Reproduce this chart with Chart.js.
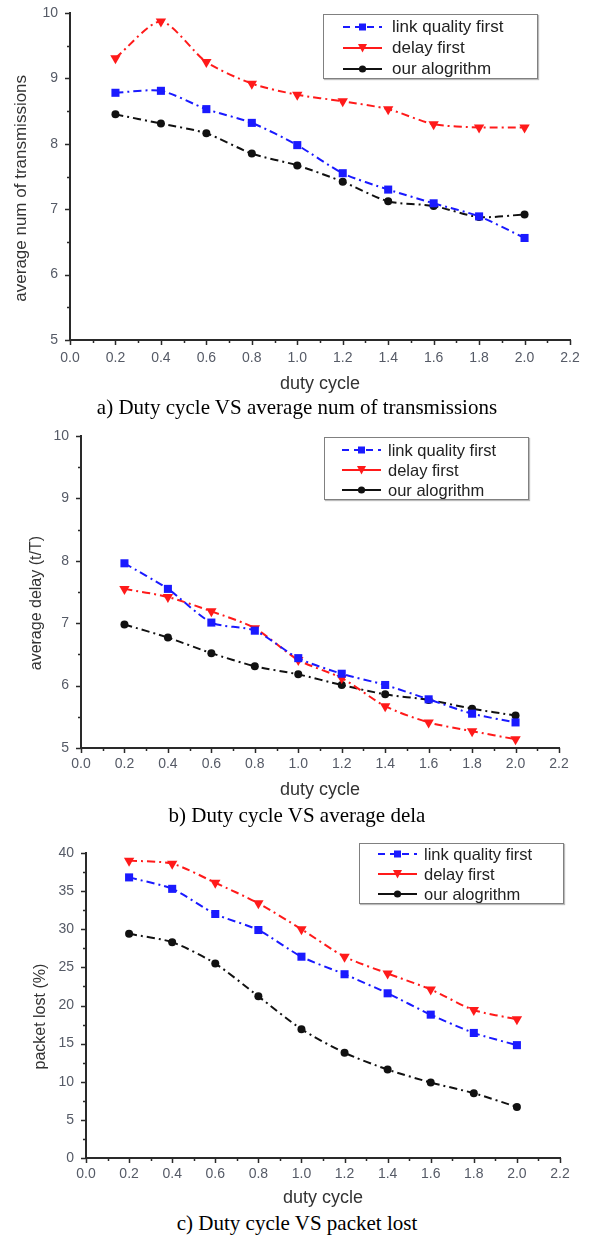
<!DOCTYPE html>
<html><head><meta charset="utf-8">
<script src="https://cdn.jsdelivr.net/npm/chart.js@4.4.0/dist/chart.umd.min.js"></script>
<style>
html,body{margin:0;padding:0;background:#fff;}
#page{position:relative;width:589px;height:1236px;overflow:hidden;background:#fff;}
canvas{position:absolute;left:0;}
.cap{position:absolute;left:0;width:594px;text-align:center;font-family:"Liberation Serif","Times New Roman",serif;font-size:21px;color:#000;line-height:24px;white-space:nowrap;}
.legend{position:absolute;border:1.5px solid #808080;background:#fff;box-sizing:border-box;box-shadow:1px 1px 1px #bbb;}
.lrow{position:absolute;left:0;height:20px;line-height:20px;font-family:"Liberation Sans",Arial,sans-serif;color:#222;white-space:nowrap;}
.lrow svg{position:absolute;top:4px;}
.lrow span{position:absolute;top:0;}
</style>
</head>
<body>
<div id="page">
  <canvas id="cA" width="589" height="396" style="top:0px;width:589px;height:396px"></canvas>
  <canvas id="cB" width="589" height="392" style="top:410px;width:589px;height:392px"></canvas>
  <canvas id="cC" width="589" height="390" style="top:820px;width:589px;height:390px"></canvas>
  <div class="cap" style="top:395px">a) Duty cycle VS average num of transmissions</div>
  <div class="cap" style="top:803px">b) Duty cycle VS average dela</div>
  <div class="cap" style="top:1211px">c) Duty cycle VS packet lost</div>
</div>
<script>
// ---------- data ----------
const xValues = [0.2, 0.4, 0.6, 0.8, 1.0, 1.2, 1.4, 1.6, 1.8, 2.0];
const seriesNames = ['link quality first', 'delay first', 'our alogrithm'];
const xTickLabels = ['0.0','0.2','0.4','0.6','0.8','1.0','1.2','1.4','1.6','1.8','2.0','2.2'];
const xTitle = 'duty cycle';

// a) average num of transmissions
const transLinkQuality  = [8.78, 8.81, 8.53, 8.32, 7.98, 7.55, 7.30, 7.09, 6.89, 6.56];
const transDelayFirst   = [9.31, 9.87, 9.25, 8.92, 8.75, 8.65, 8.53, 8.30, 8.25, 8.25];
const transOurAlgorithm = [8.45, 8.31, 8.16, 7.85, 7.67, 7.42, 7.12, 7.05, 6.88, 6.92];
const transYTicks = ['5','6','7','8','9','10'];
const transYTitle = 'average num of transmissions';

// b) average delay
const delayLinkQuality  = [7.96, 7.55, 7.01, 6.88, 6.44, 6.19, 6.01, 5.78, 5.55, 5.41];
const delayDelayFirst   = [7.55, 7.42, 7.19, 6.92, 6.41, 6.12, 5.67, 5.41, 5.27, 5.14];
const delayOurAlgorithm = [6.98, 6.77, 6.52, 6.31, 6.18, 6.01, 5.86, 5.77, 5.63, 5.52];
const delayYTicks = ['5','6','7','8','9','10'];
const delayYTitle = 'average delay (t/T)';

// c) packet lost
const lossLinkQuality  = [36.8, 35.3, 32.0, 29.9, 26.4, 24.1, 21.6, 18.8, 16.4, 14.8];
const lossDelayFirst   = [39.0, 38.6, 36.1, 33.4, 30.0, 26.4, 24.2, 22.1, 19.4, 18.2];
const lossOurAlgorithm = [29.4, 28.3, 25.5, 21.2, 16.9, 13.8, 11.6, 9.9, 8.5, 6.7];
const lossYTicks = ['0','5','10','15','20','25','30','35','40'];
const lossYTitle = 'packet lost (%)';

// ---------- styles ----------
const COLORS = ['#1a1aff', '#ff1a1a', '#111111'];
const AXIS = '#2a2a2a';
const TICKTXT = '#555a66';
Chart.defaults.font.family = '"Liberation Sans", Arial, sans-serif';

const tickPlugin = {
  id: 'axisTicks',
  afterDraw(chart) {
    const ctx = chart.ctx;
    const xs = chart.scales.x, ys = chart.scales.y;
    ctx.save();
    ctx.strokeStyle = AXIS;
    ctx.lineWidth = 1.5;
    const xv = xs.ticks.map(t => t.value);
    const yv = ys.ticks.map(t => t.value);
    const axY = chart.chartArea.bottom, axX = chart.chartArea.left;
    ctx.beginPath();
    xv.forEach((v, i) => {
      const p = Math.round(xs.getPixelForValue(v)) + 0.5;
      ctx.moveTo(p, axY); ctx.lineTo(p, axY + 5);
      if (i < xv.length - 1) {
        const m = Math.round(xs.getPixelForValue((v + xv[i + 1]) / 2)) + 0.5;
        ctx.moveTo(m, axY); ctx.lineTo(m, axY + 3);
      }
    });
    yv.forEach((v, i) => {
      const p = Math.round(ys.getPixelForValue(v)) + 0.5;
      ctx.moveTo(axX, p); ctx.lineTo(axX - 5, p);
      if (i < yv.length - 1) {
        const m = Math.round(ys.getPixelForValue((v + yv[i + 1]) / 2)) + 0.5;
        ctx.moveTo(axX, m); ctx.lineTo(axX - 3, m);
      }
    });
    ctx.stroke();
    ctx.restore();
  }
};

function ds(label, vals, idx) {
  const styles = [
    {pointStyle: 'rect', pointRadius: 5.7, rot: 0},
    {pointStyle: 'triangle', pointRadius: 6, rot: 180},
    {pointStyle: 'circle', pointRadius: 4, rot: 0}
  ][idx];
  return {
    label,
    data: xValues.map((x, i) => ({x, y: vals[i]})),
    borderColor: COLORS[idx],
    backgroundColor: COLORS[idx],
    borderWidth: 2,
    borderDash: [8, 4, 2, 4],
    pointStyle: styles.pointStyle,
    pointRadius: styles.pointRadius,
    pointRotation: styles.rot,
    pointBorderWidth: 0,
    tension: 0.25,
    fill: false
  };
}

function makeChart(id, series, yMin, yMax, yStep, yTicks, yTitle, box) {
  const canvas = document.getElementById(id);
  return new Chart(canvas, {
    type: 'line',
    data: { datasets: series.map((s, i) => ds(seriesNames[i], s, i)) },
    options: {
      responsive: false,
      animation: false,
      devicePixelRatio: 1,
      layout: { padding: { left: 0, right: 589 - box.right, top: box.top, bottom: 0 } },
      plugins: { legend: { display: false }, tooltip: { enabled: false } },
      scales: {
        x: {
          type: 'linear', min: 0, max: 2.2,
          ticks: { stepSize: 0.2, autoSkip: false, maxRotation: 0, padding: box.xPad,
                   color: TICKTXT, font: { size: 14 },
                   callback: (v, i) => xTickLabels[i] },
          grid: { display: false, drawTicks: false },
          border: { display: true, color: AXIS, width: 2 },
          title: { display: true, text: xTitle, color: '#333', font: { size: 18 }, padding: { top: 0, bottom: 1 } },
          afterFit: s => { s.height = canvas.height - box.bottom; s.paddingLeft = 0; s.paddingRight = 0; }
        },
        y: {
          type: 'linear', min: yMin, max: yMax,
          ticks: { stepSize: yStep, autoSkip: false, padding: 12,
                   color: TICKTXT, font: { size: 14 },
                   callback: (v, i) => yTicks[i] },
          grid: { display: false, drawTicks: false },
          border: { display: true, color: AXIS, width: 2 },
          title: { display: true, text: yTitle + '     ', color: '#333', font: { size: box.ytSize }, padding: { top: box.ytPad, bottom: 0 } },
          afterFit: s => { s.width = box.left; s.paddingTop = 0; s.paddingBottom = 0; }
        }
      }
    },
    plugins: [tickPlugin]
  });
}

makeChart('cA', [transLinkQuality, transDelayFirst, transOurAlgorithm], 5, 10, 1, transYTicks, transYTitle,
  {left: 70, right: 570, top: 13, bottom: 340, ytSize: 17, ytPad: 11, xPad: 10});
makeChart('cB', [delayLinkQuality, delayDelayFirst, delayOurAlgorithm], 5, 10, 1, delayYTicks, delayYTitle,
  {left: 81, right: 559, top: 26, bottom: 338, ytSize: 16, ytPad: 27, xPad: 8});
makeChart('cC', [lossLinkQuality, lossDelayFirst, lossOurAlgorithm], 0, 40, 5, lossYTicks, lossYTitle,
  {left: 86, right: 560, top: 33, bottom: 338, ytSize: 16, ytPad: 31, xPad: 8});

// ---------- legends ----------
function marker(idx) {
  const c = COLORS[idx];
  if (idx === 0) return `<rect x="16" y="2.5" width="7" height="7" fill="${c}"/>`;
  if (idx === 1) return `<polygon points="15,2 24,2 19.5,10.5" fill="${c}"/>`;
  return `<circle cx="19.5" cy="6" r="3.6" fill="${c}"/>`;
}
function makeLegend(box) {
  const page = document.getElementById('page');
  const lg = document.createElement('div');
  lg.className = 'legend';
  lg.style.left = box.left + 'px'; lg.style.top = box.top + 'px';
  lg.style.width = box.w + 'px'; lg.style.height = box.h + 'px';
  seriesNames.forEach((name, i) => {
    const row = document.createElement('div');
    row.className = 'lrow';
    row.style.top = (box.rows[i] - 10) + 'px';
    row.style.width = (box.w - 4) + 'px';
    row.style.fontSize = box.fs + 'px';
    const dash = i === 0 ? 'stroke-dasharray="7,5"' : '';
    row.innerHTML = `<svg width="40" height="12" style="left:${box.sx}px"><line x1="0" y1="6" x2="39" y2="6" stroke="${COLORS[i]}" stroke-width="2" ${dash}/>${marker(i)}</svg><span style="left:${box.tx}px">${name}</span>`;
    lg.appendChild(row);
  });
  page.appendChild(lg);
}
makeLegend({left: 323, top: 14, w: 215, h: 65, rows: [12, 33, 54], sx: 19, tx: 68, fs: 17});
makeLegend({left: 324, top: 437, w: 205, h: 63, rows: [12, 32, 52], sx: 17, tx: 63, fs: 16.5});
makeLegend({left: 359, top: 843, w: 205, h: 61, rows: [10, 30, 50], sx: 18, tx: 64, fs: 16.5});
</script>
</body></html>
